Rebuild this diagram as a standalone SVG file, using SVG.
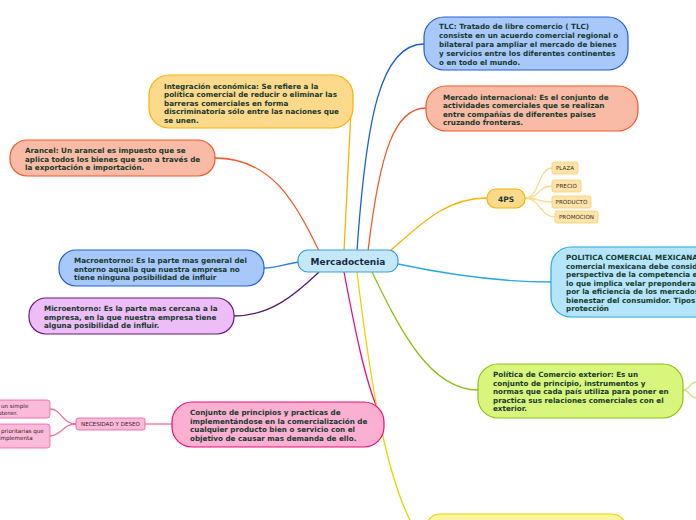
<svg xmlns="http://www.w3.org/2000/svg" width="696" height="520" viewBox="0 0 696 520">
<style>
.t{font-family:"DejaVu Sans",Verdana,sans-serif;font-weight:bold;font-size:7.2px;fill:#173a2e}
.s{font-family:"DejaVu Sans",Verdana,sans-serif;font-size:5.6px;fill:#3a2a1a}
.c{fill:none;stroke-width:1.3}
.n{stroke-width:1.2}
</style>
<rect width="696" height="520" fill="#ffffff"/>
<g id="connectors">
<path class="c" stroke="#1a5fd8" d="M357,251 C366,120 380,44 424,44"/>
<path class="c" stroke="#f05a28" d="M368,251 C380,150 395,108 426,108"/>
<path class="c" stroke="#f5b400" d="M344,251 C348,180 350,120 352,90"/>
<path class="c" stroke="#f05a28" d="M319,251 C295,200 270,158 215,158"/>
<path class="c" stroke="#2a7fe0" d="M299,262 C285,264 275,268 264,268"/>
<path class="c" stroke="#5a1a6a" d="M319,272 C295,295 270,316 234,316"/>
<path class="c" stroke="#f5b400" d="M390,251 C420,225 445,198 487,198"/>
<path class="c" stroke="#29a8e0" d="M398,264 C450,275 500,282 551,282"/>
<path class="c" stroke="#8cc21a" d="M372,272 C400,330 430,390 478,390"/>
<path class="c" stroke="#e8107a" d="M344,272 C355,330 365,380 378,410"/>
<path class="c" stroke="#e8d600" d="M357,272 C370,380 385,470 410,520"/>
<path class="c" stroke="#f070a8" stroke-width="1" d="M172,424 L145,424"/>
<path class="c" stroke="#f070a8" stroke-width="1" d="M76,424 C62,424 62,409 50,409"/>
<path class="c" stroke="#f070a8" stroke-width="1" d="M76,424 C62,424 62,436 50,436"/>
<path class="c" stroke="#fcd98b" stroke-width="1" d="M525,198 C540,198 538,168 552,168"/>
<path class="c" stroke="#fcd98b" stroke-width="1" d="M525,198 C540,198 538,186 552,186"/>
<path class="c" stroke="#fcd98b" stroke-width="1" d="M525,198 C540,198 538,202 552,202"/>
<path class="c" stroke="#fcd98b" stroke-width="1" d="M525,198 C540,198 540,217 555,217"/>
<path class="c" stroke="#c8e890" stroke-width="1" d="M683,390 C690,390 690,382 696,382"/>
<path class="c" stroke="#c8e890" stroke-width="1" d="M683,390 C690,390 690,398 696,398"/>
</g>
<g id="center">
<rect x="298" y="250" width="100" height="22" rx="10" fill="#c5e8f9" stroke="#3a9fd8" class="n"/>
<text x="348" y="264.5" text-anchor="middle" style="font-family:'DejaVu Sans',Verdana,sans-serif;font-weight:bold;font-size:9px;fill:#1a2a48">Mercadoctenia</text>
</g>
<g id="tlc">
<rect x="424" y="17" width="204" height="53" rx="20" fill="#a8c8fb" stroke="#2060e0" class="n"/>
<text class="t" x="439" y="29">TLC: Tratado de libre comercio ( TLC)</text>
<text class="t" x="439" y="38">consiste en un acuerdo comercial regional o</text>
<text class="t" x="439" y="47">bilateral para ampliar el mercado de bienes</text>
<text class="t" x="439" y="55.5">y servicios entre los diferentes continentes</text>
<text class="t" x="439" y="64.5">o en todo el mundo.</text>
</g>
<g id="mercado">
<rect x="426" y="86" width="212" height="45" rx="20" fill="#f9baa6" stroke="#f05a28" class="n"/>
<text class="t" x="443" y="99.5">Mercado internacional: Es el conjunto de</text>
<text class="t" x="443" y="108">actividades comerciales que se realizan</text>
<text class="t" x="443" y="116.5">entre compañías de diferentes paises</text>
<text class="t" x="443" y="125">cruzando fronteras.</text>
</g>
<g id="integracion">
<rect x="149" y="75" width="204" height="53" rx="20" fill="#fcd98b" stroke="#f5b400" class="n"/>
<text class="t" x="164" y="88.5">Integración económica: Se refiere a la</text>
<text class="t" x="164" y="97">política comercial de reducir o eliminar las</text>
<text class="t" x="164" y="105.5">barreras comerciales en forma</text>
<text class="t" x="164" y="114">discriminatoria sólo entre las naciones que</text>
<text class="t" x="164" y="122.5">se unen.</text>
</g>
<g id="arancel">
<rect x="10" y="140" width="205" height="36" rx="17" fill="#f9baa6" stroke="#f05a28" class="n"/>
<text class="t" x="25" y="153">Arancel: Un arancel es impuesto que se</text>
<text class="t" x="25" y="161.5">aplica todos los bienes que son a través de</text>
<text class="t" x="25" y="170">la exportación e importación.</text>
</g>
<g id="macro">
<rect x="59" y="250" width="205" height="36" rx="17" fill="#a8c8fb" stroke="#2060e0" class="n"/>
<text class="t" x="74" y="263">Macroentorno: Es la parte mas general del</text>
<text class="t" x="74" y="271.5">entorno aquella que nuestra empresa no</text>
<text class="t" x="74" y="280">tiene ninguna posibilidad de influir</text>
</g>
<g id="micro">
<rect x="29" y="298" width="205" height="36" rx="17" fill="#ecbdf6" stroke="#6a1a7a" class="n"/>
<text class="t" x="44" y="311">Microentorno: Es la parte mas cercana a la</text>
<text class="t" x="44" y="319.5">empresa, en la que nuestra empresa tiene</text>
<text class="t" x="44" y="328">alguna posibilidad de influir.</text>
</g>
<g id="ps4">
<rect x="487" y="189" width="38" height="19" rx="9" fill="#fcd98b" stroke="#f5b400" class="n"/>
<text x="506" y="201.5" text-anchor="middle" style="font-family:'DejaVu Sans',Verdana,sans-serif;font-weight:bold;font-size:7.5px;fill:#173a2e">4PS</text>
</g>
<g id="plaza">
<rect x="552" y="162" width="26" height="12" rx="2" fill="#fde4aa" stroke="#f8cd6a" stroke-width="0.8"/>
<text class="s" x="565" y="170" text-anchor="middle">PLAZA</text>
</g>
<g id="precio">
<rect x="552" y="180" width="29" height="12" rx="2" fill="#fde4aa" stroke="#f8cd6a" stroke-width="0.8"/>
<text class="s" x="566.5" y="188" text-anchor="middle">PRECIO</text>
</g>
<g id="producto">
<rect x="552" y="196" width="39" height="12" rx="2" fill="#fde4aa" stroke="#f8cd6a" stroke-width="0.8"/>
<text class="s" x="571.5" y="204" text-anchor="middle">PRODUCTO</text>
</g>
<g id="promocion">
<rect x="555" y="211" width="43" height="12" rx="2" fill="#fde4aa" stroke="#f8cd6a" stroke-width="0.8"/>
<text class="s" x="576.5" y="219" text-anchor="middle">PROMOCION</text>
</g>
<g id="politica">
<rect x="551" y="247" width="170" height="70" rx="20" fill="#b4e5fb" stroke="#29a8e0" class="n"/>
<text class="t" x="566" y="260">POLITICA COMERCIAL MEXICANA: La política</text>
<text class="t" x="566" y="268.5">comercial mexicana debe considerar la</text>
<text class="t" x="566" y="277">perspectiva de la competencia económica,</text>
<text class="t" x="566" y="285.5">lo que implica velar preponderantemente</text>
<text class="t" x="566" y="294">por la eficiencia de los mercados y el</text>
<text class="t" x="566" y="302.5">bienestar del consumidor. Tipos de</text>
<text class="t" x="566" y="311">protección</text>
</g>
<g id="exterior">
<rect x="478" y="364" width="205" height="54" rx="20" fill="#d9f67c" stroke="#8cc21a" class="n"/>
<text class="t" x="493" y="377">Política de Comercio exterior: Es un</text>
<text class="t" x="493" y="385.5">conjunto de principio, instrumentos y</text>
<text class="t" x="493" y="394">normas que cada país utiliza para poner en</text>
<text class="t" x="493" y="402.5">practica sus relaciones comerciales con el</text>
<text class="t" x="493" y="411">exterior.</text>
</g>
<g id="conjunto">
<rect x="172" y="402" width="212" height="45" rx="20" fill="#fbb0d2" stroke="#e8107a" class="n"/>
<text class="t" x="190" y="415">Conjunto de principios y practicas de</text>
<text class="t" x="190" y="423.5">implementándose en la comercialización de</text>
<text class="t" x="190" y="432">cualquier producto bien o servicio con el</text>
<text class="t" x="190" y="440.5">objetivo de causar mas demanda de ello.</text>
</g>
<g id="necesidad">
<rect x="76" y="418" width="69" height="12" rx="2" fill="#fbbad7" stroke="#ef5ca0" stroke-width="0.8"/>
<text class="s" x="110.5" y="426" text-anchor="middle" style="fill:#3a1a2a">NECESIDAD Y DESEO</text>
</g>
<g id="necesidad1">
<rect x="-10" y="400" width="60" height="18" rx="3" fill="#fbbad7" stroke="#ef5ca0" stroke-width="0.8"/>
<text class="s" x="1" y="408" style="fill:#3a1a2a">un simple</text>
<text class="s" x="-2" y="415" style="fill:#3a1a2a">btener.</text>
</g>
<g id="necesidad2">
<rect x="-10" y="424" width="60" height="24" rx="3" fill="#fbbad7" stroke="#ef5ca0" stroke-width="0.8"/>
<text class="s" x="1" y="433" style="fill:#3a1a2a">prioritarias que</text>
<text class="s" x="-1" y="440" style="fill:#3a1a2a">implementa</text>
</g>
<g id="bottom">
<rect x="426" y="514" width="200" height="30" rx="14" fill="#fdf4a0" stroke="#e8d600" class="n"/>
</g>
</svg>
